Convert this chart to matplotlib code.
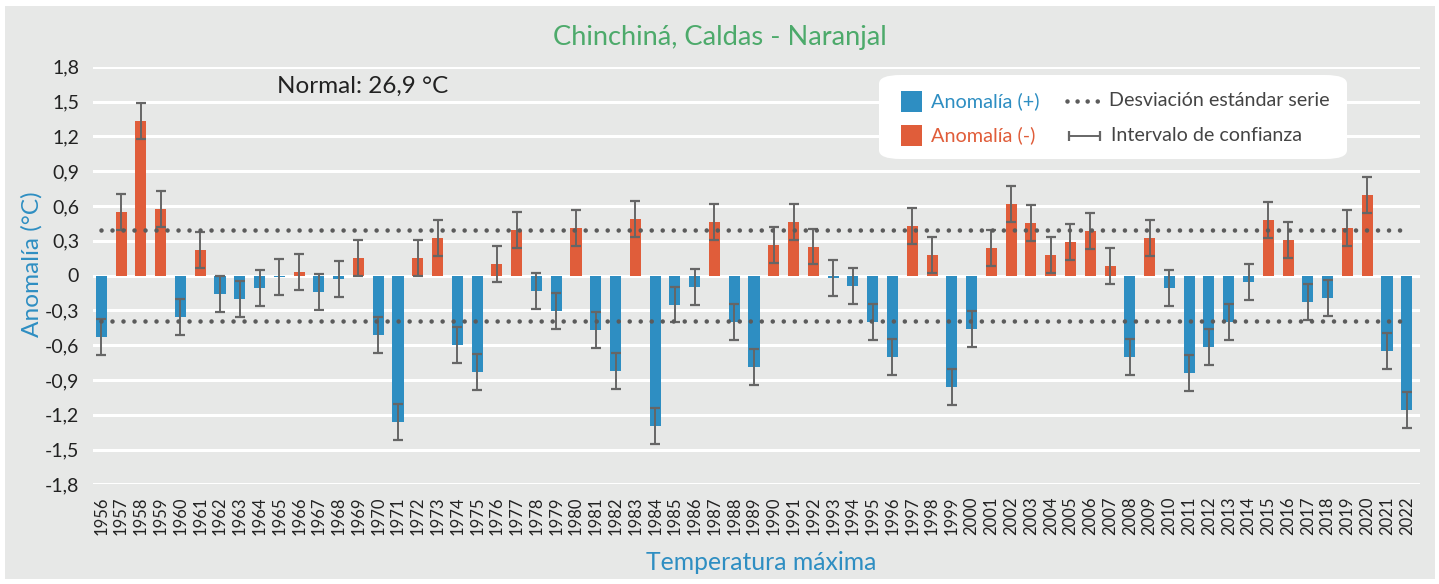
import matplotlib.pyplot as plt
from matplotlib.patches import FancyBboxPatch, Rectangle
from matplotlib.lines import Line2D

plt.rcParams['font.family'] = ['Lato', 'DejaVu Sans']

# Data
years = list(range(1956, 2023))
anomalia = [
    -0.53, 0.55, 1.33, 0.57, -0.36, 0.22, -0.16, -0.20, -0.11, -0.015,
    0.03, -0.14, -0.03, 0.15, -0.51, -1.26, 0.15, 0.32, -0.60, -0.83,
    0.10, 0.39, -0.13, -0.31, 0.41, -0.47, -0.82, 0.49, -1.30, -0.25,
    -0.10, 0.46, -0.40, -0.79, 0.26, 0.46, 0.25, -0.02, -0.09, -0.40,
    -0.70, 0.43, 0.18, -0.96, -0.46, 0.24, 0.62, 0.45, 0.18, 0.29,
    0.38, 0.08, -0.70, 0.32, -0.11, -0.84, -0.62, -0.40, -0.06, 0.48,
    0.31, -0.23, -0.19, 0.41, 0.69, -0.65, -1.16,
]
ic = 0.155          # half width of confidence interval
desv_std = 0.39     # standard deviation of the series
normal_txt = 'Normal: 26,9 °C'

BLUE = '#2E8EC2'
RED = '#E05D3A'
GRAY_BG = '#E7E8E7'
DARK = '#5B5B5B'

W, H = 1439, 584
fig = plt.figure(figsize=(W / 100, H / 100), dpi=100, facecolor='white')
fig.patches.append(Rectangle((5 / W, 1 - 579 / H), 1430 / W, 573 / H,
                             transform=fig.transFigure, facecolor=GRAY_BG,
                             edgecolor='none', zorder=-10))

ax = fig.add_axes([93 / W, 1 - 484.3 / H, 1327 / W, 417.6 / H])
ax.set_facecolor('none')

colors = [RED if v > 0 else BLUE for v in anomalia]
ax.bar(years, anomalia, width=0.56, color=colors, zorder=3)
ax.errorbar(years, anomalia, yerr=ic, fmt='none', ecolor='#666666',
            elinewidth=1.4, capsize=3.5, capthick=1.6, zorder=4)

for s in (desv_std, -desv_std):
    ax.plot([years[0], years[-1]], [s, s], color=DARK, lw=3.3,
            linestyle=(0, (0.001, 2.4)), dash_capstyle='round', zorder=5)

ax.set_xlim(1955.58, 2022.67)
ax.set_ylim(-1.8, 1.8)
yt = [-1.8 + 0.3 * i for i in range(13)]
ax.set_yticks(yt)
ax.set_yticklabels([('%.1f' % t).replace('.', ',').replace('-0,0', '0').replace('0,0', '0') for t in yt])
ax.set_xticks(years)
ax.set_xticklabels([str(y) for y in years], rotation=90, fontsize=12, color='#222222')
ax.tick_params(axis='y', labelsize=14, colors='#222222', length=0, pad=10)
ax.tick_params(axis='x', length=0, pad=9)
ax.grid(axis='y', color='white', linewidth=2.2, zorder=0)
for sp in ax.spines.values():
    sp.set_visible(False)

fig.text(720 / W, 1 - 38 / H, 'Chinchiná, Caldas - Naranjal', color='#4DAA6B',
         fontsize=19.6, ha='center', va='center')
fig.text(277 / W, 1 - 86 / H, normal_txt, color='#222222', fontsize=17.5,
         ha='left', va='center')
fig.text(32 / W, 1 - 264 / H, 'Anomalía (°C)', color=BLUE, fontsize=17.6,
         rotation=90, ha='center', va='center')
fig.text(761 / W, 1 - 563 / H, 'Temperatura máxima', color=BLUE, fontsize=17.8,
         ha='center', va='center')

# Legend drawn by hand
fig.patches.append(FancyBboxPatch((879 / W, 1 - 159 / H), 468 / W, 84 / H,
                                  boxstyle='round,pad=0,rounding_size=0.015',
                                  transform=fig.transFigure, facecolor='white',
                                  edgecolor='none', zorder=6))
fig.patches.append(Rectangle((901 / W, 1 - 112 / H), 21 / W, 21 / H,
                             transform=fig.transFigure, facecolor=BLUE, zorder=7))
fig.patches.append(Rectangle((901 / W, 1 - 146 / H), 21 / W, 21 / H,
                             transform=fig.transFigure, facecolor=RED, zorder=7))
fig.text(931 / W, 1 - 101 / H, 'Anomalía (+)', color=BLUE, fontsize=14.3,
         ha='left', va='center', zorder=7)
fig.text(931 / W, 1 - 135.5 / H, 'Anomalía (-)', color=RED, fontsize=14.3,
         ha='left', va='center', zorder=7)
fig.lines.append(Line2D([1067 / W, 1098 / W], [1 - 101 / H, 1 - 101 / H],
                        transform=fig.transFigure, color=DARK, lw=3.3,
                        linestyle=(0, (0.001, 2.2)), dash_capstyle='round', zorder=7))
fig.text(1109 / W, 1 - 101 / H, 'Desviación estándar serie', color='#444444',
         fontsize=14.1, ha='left', va='center', zorder=7)
fig.lines.append(Line2D([1069 / W, 1100 / W], [1 - 135.5 / H, 1 - 135.5 / H],
                        transform=fig.transFigure, color='#666666', lw=1.4,
                        marker='|', markersize=7, markeredgewidth=1.6, zorder=7))
fig.text(1111 / W, 1 - 135.5 / H, 'Intervalo de confianza', color='#444444',
         fontsize=14.1, ha='left', va='center', zorder=7)

fig.savefig('out.png', dpi=100, facecolor='white')
